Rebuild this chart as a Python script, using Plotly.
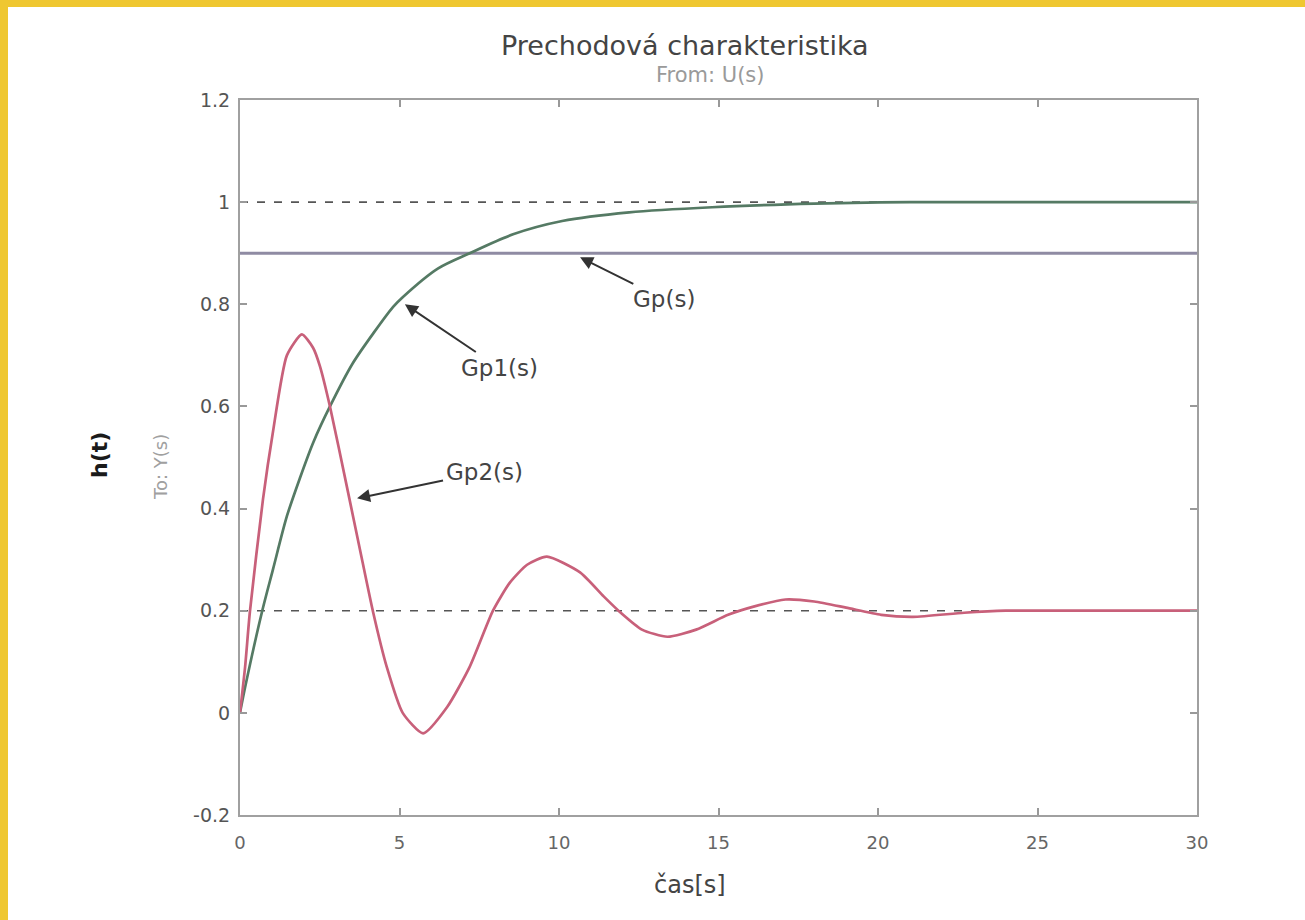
import plotly.graph_objects as go

# ---- data ----
t_gp2 = [0, 0.16, 0.31, 0.72, 1.03, 1.47, 1.94, 2.29, 2.5, 2.82, 3.35, 3.76, 4.17, 4.6, 5.1,
         5.74, 6.5, 7.2, 7.93, 8.46, 9.0, 9.62, 10.66, 11.4, 11.9, 12.6, 13.4, 14.3, 15.3,
         16.1, 17.1, 18.0, 19.0, 20.1, 21.1, 22.7, 24.0, 27.0, 30.0]
y_gp2 = [0, 0.09, 0.198, 0.418, 0.549, 0.70, 0.741, 0.715, 0.68, 0.60, 0.443, 0.32, 0.198, 0.09, 0.0,
         -0.04, 0.012, 0.09, 0.2, 0.255, 0.29, 0.306, 0.275, 0.228, 0.198, 0.163, 0.149, 0.163, 0.192,
         0.208, 0.222, 0.218, 0.206, 0.192, 0.188, 0.196, 0.2, 0.2, 0.2]

t_gp1 = [0, 0.16, 0.69, 1.03, 1.47, 1.88, 2.3, 2.82, 3.54, 4.2, 4.8, 5.1, 6.2, 7.2, 8.56, 10.1, 12.2, 14.8, 18.0, 21.0, 30.0]
y_gp1 = [0, 0.05, 0.198, 0.28, 0.385, 0.46, 0.53, 0.60, 0.685, 0.745, 0.795, 0.814, 0.87, 0.90, 0.937, 0.963, 0.98, 0.99, 0.997, 1.0, 1.0]

t_gp = [0, 30]
y_gp = [0.9, 0.9]

t_ref = [0, 30]
y_ref1 = [1.0, 1.0]
y_ref2 = [0.2, 0.2]

x_ticks = [0, 5, 10, 15, 20, 25, 30]
y_ticks = [-0.2, 0, 0.2, 0.4, 0.6, 0.8, 1, 1.2]
y_tick_labels = ["-0.2", "0", "0.2", "0.4", "0.6", "0.8", "1", "1.2"]

# annotations: (label, head_x, head_y, text_x, text_y)
labels = [
    ("Gp(s)", 10.66, 0.892, 13.3, 0.81),
    ("Gp1(s)", 5.17, 0.80, 8.12, 0.676),
    ("Gp2(s)", 3.67, 0.42, 7.68, 0.472),
]

FONT = "DejaVu Sans, Liberation Sans, sans-serif"
PW, PH = 957, 715  # plot area size in px

fig = go.Figure()
fig.add_trace(go.Scatter(x=t_ref, y=y_ref1, mode="lines",
                         line=dict(color="#555555", width=1.6, dash="8px,9px"), hoverinfo="skip"))
fig.add_trace(go.Scatter(x=t_ref, y=y_ref2, mode="lines",
                         line=dict(color="#555555", width=1.6, dash="8px,9px"), hoverinfo="skip"))
fig.add_trace(go.Scatter(x=t_gp, y=y_gp, mode="lines", name="Gp(s)",
                         line=dict(color="#8f8ba3", width=3)))
fig.add_trace(go.Scatter(x=t_gp1, y=y_gp1, mode="lines", name="Gp1(s)",
                         line=dict(color="#557a64", width=2.7, shape="spline", smoothing=0.8)))
fig.add_trace(go.Scatter(x=t_gp2, y=y_gp2, mode="lines", name="Gp2(s)",
                         line=dict(color="#c8607a", width=2.7, shape="spline", smoothing=0.6)))

for lab, hx, hy, tx, ty in labels:
    fig.add_annotation(x=hx, y=hy, ax=tx, ay=ty, xref="x", yref="y", axref="x", ayref="y",
                       text=lab, showarrow=True, arrowhead=2, arrowsize=1.3, arrowwidth=2,
                       arrowcolor="#333333", standoff=0, startstandoff=2,
                       font=dict(family=FONT, size=23, color="#444444"))

# titles
fig.add_annotation(text="Prechodová charakteristika", x=(685 - 240) / PW, y=1 + 55 / PH,
                   xref="paper", yref="paper", xanchor="center", yanchor="middle", showarrow=False,
                   font=dict(family=FONT, size=27, color="#444444"))
fig.add_annotation(text="From: U(s)", x=(710 - 240) / PW, y=1 + 25 / PH,
                   xref="paper", yref="paper", xanchor="center", yanchor="middle", showarrow=False,
                   font=dict(family=FONT, size=21, color="#9a9a9a"))
fig.add_annotation(text="<b>h(t)</b>", x=-(240 - 100) / PW, y=(815 - 455) / PH, xref="paper", yref="paper",
                   xanchor="center", yanchor="middle", textangle=-90, showarrow=False,
                   font=dict(family=FONT, size=22, color="#1a1a1a"))
fig.add_annotation(text="To: Y(s)", x=-(240 - 160) / PW, y=(815 - 467) / PH, xref="paper", yref="paper",
                   xanchor="center", yanchor="middle", textangle=-90, showarrow=False,
                   font=dict(family=FONT, size=18, color="#a0a0a0"))
fig.add_annotation(text="čas[s]", x=(690 - 240) / PW, y=-(885 - 815) / PH, xref="paper", yref="paper",
                   xanchor="center", yanchor="middle",
                   showarrow=False, font=dict(family=FONT, size=24, color="#444444"))

# yellow frame strips (top and left)
fig.add_shape(type="rect", xref="paper", yref="paper",
              x0=-240 / PW, x1=1.2, y0=1 + 93 / PH, y1=1 + 101 / PH,
              fillcolor="#efc730", line=dict(width=0), layer="above")
fig.add_shape(type="rect", xref="paper", yref="paper",
              x0=-241 / PW, x1=-232 / PW, y0=-0.2, y1=1.2,
              fillcolor="#efc730", line=dict(width=0), layer="above")

axis_common = dict(showgrid=False, zeroline=False, showline=True, linecolor="#a0a0a0", linewidth=2,
                   mirror="ticks", ticks="inside", ticklen=7, tickcolor="#999999", tickwidth=1.5)

fig.update_layout(
    width=1305, height=920,
    margin=dict(l=240, r=108, t=100, b=105),
    paper_bgcolor="white", plot_bgcolor="white",
    showlegend=False,
    xaxis=dict(range=[0, 30], tickvals=x_ticks, ticktext=[str(v) for v in x_ticks],
               tickfont=dict(family=FONT, size=18, color="#666666"), ticklabelstandoff=10,
               **axis_common),
    yaxis=dict(range=[-0.2, 1.2], tickvals=y_ticks, ticktext=y_tick_labels,
               tickfont=dict(family=FONT, size=19, color="#555555"), ticklabelstandoff=4,
               **axis_common),
)

fig.write_html("out.html", config={"displayModeBar": False},
               post_script="document.body.style.margin='0';")
